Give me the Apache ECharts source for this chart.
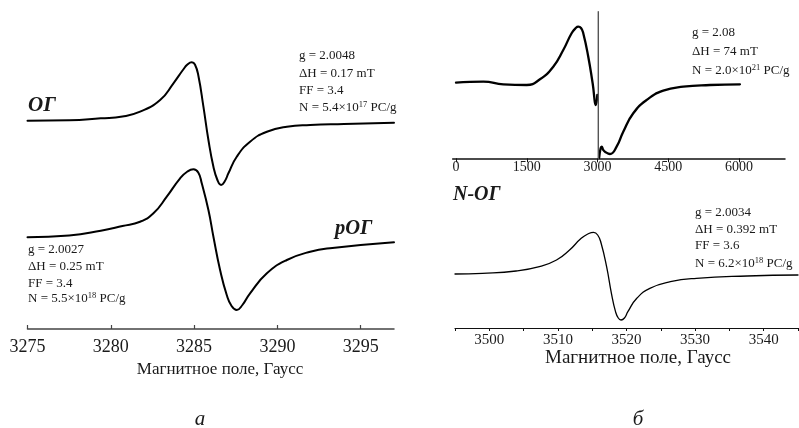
<!DOCTYPE html>
<html>
<head>
<meta charset="utf-8">
<script src="https://cdn.jsdelivr.net/npm/echarts@6/dist/echarts.min.js"></script>
<style>
  html, body { margin: 0; padding: 0; background: #fff; }
  #chart { width: 799px; height: 428px; }
</style>
</head>
<body>
<div id="chart"></div>
<script>
// EPR spectra: ОГ / рОГ (panel а), N-ОГ wide scan and narrow scan (panel б).
// Intensities are in arbitrary units with a vertical offset per trace.

// Panel а — ОГ
const ogField  = [3275, 3277.5, 3279.4, 3280.7, 3281.76, 3282.96, 3283.76, 3284.35, 3284.6, 3284.86, 3285.05, 3285.26, 3285.56, 3285.86, 3286.16, 3286.4, 3286.62, 3286.85, 3287.06, 3287.56, 3288.36, 3289.37, 3290.57, 3291.97, 3294, 3297];
const ogSignal = [208.3, 208.7, 210.7, 212.5, 217.3, 229, 245.7, 259.5, 264.5, 266.7, 264.5, 253, 222.3, 189, 162.3, 149, 144, 148, 155.7, 172.3, 187.3, 197.3, 202.3, 204, 205, 206.3];

// Panel а — рОГ
const rogField  = [3275, 3277.5, 3279.4, 3280.7, 3281.76, 3282.56, 3283.36, 3284.16, 3284.6, 3284.96, 3285.25, 3285.46, 3285.86, 3286.16, 3286.56, 3286.96, 3287.25, 3287.56, 3287.9, 3288.36, 3289.37, 3290.57, 3291.97, 3293.3, 3297];
const rogSignal = [91.7, 93.5, 98.3, 103, 107.3, 115.7, 132.3, 150.7, 157.5, 159.7, 156.5, 145.7, 119, 92.3, 59, 34, 23, 19, 24, 35.7, 55.7, 69, 77.3, 81, 86.7];

// Panel б — N-ОГ wide scan, below and above the narrow line
const wideLowField   = [0, 300, 580, 1003, 1498, 1780, 2062, 2274, 2451, 2540, 2592, 2650, 2698, 2804, 2897, 2967, 2995];
const wideLowSignal  = [75.6, 76.4, 76.6, 74, 73.3, 79, 91.6, 108.3, 125, 130.3, 131.6, 130.3, 125, 101.6, 75, 53.3, 63.3];
const wideHighField  = [3035, 3066, 3088, 3120, 3158, 3264, 3405, 3546, 3758, 4041, 4394, 4818, 5384, 6020];
const wideHighSignal = [0.5, 10, 11.6, 8.5, 6.6, 4.3, 11.6, 26.6, 45, 58.3, 67.6, 71.6, 73.3, 74];
// narrow g ≈ 2 line that runs off the scale
const spikeField  = [3017, 3017];
const spikeSignal = [146.6, 0];

// Panel б — N-ОГ narrow scan
const narrowField  = [3495, 3499, 3503.9, 3507.3, 3509.8, 3511.7, 3513.4, 3514.5, 3515.2, 3515.8, 3516.3, 3517.1, 3517.8, 3518.4, 3518.8, 3519.2, 3519.7, 3520.2, 3521.5, 3523.4, 3526.4, 3530.2, 3537.6, 3545];
const narrowSignal = [54, 54.7, 57, 61.3, 68, 78, 89.7, 94.5, 95.7, 93, 84.7, 61.3, 34.7, 16.3, 10, 8, 10, 16.3, 29.7, 39.7, 46.3, 49.7, 52, 53];

// Tick values
const ticksA          = [3275, 3280, 3285, 3290, 3295];
const ticksWide       = [0, 1500, 3000, 4500, 6000];
const ticksNarrow     = [3500, 3510, 3520, 3530, 3540];
const ticksNarrowAll  = [3495, 3500, 3505, 3510, 3515, 3520, 3525, 3530, 3535, 3540, 3545];

const zip = (xs, ys) => xs.map((x, i) => [x, ys[i]]);

const SERIF = '"Liberation Serif", "DejaVu Serif", serif';
const INK = '#1a1a1a';
const plainNumber = v => String(v);

function line(xi, data, width, color, smooth) {
  return {
    type: 'line', xAxisIndex: xi, yAxisIndex: xi, data: data,
    showSymbol: false, smooth: smooth,
    lineStyle: { color: color, width: width, join: 'round', cap: 'round' },
    clip: false, silent: true
  };
}

function paramBlock(x, ys, lines) {
  return lines.map((t, i) => ({
    type: 'text', x: x, y: ys[i], silent: true,
    style: {
      text: t, fill: INK, font: '13px ' + SERIF,
      textAlign: 'left', textVerticalAlign: 'middle',
      rich: {
        n: { fontSize: 13, fontFamily: SERIF, fill: INK, lineHeight: 15 },
        s: { fontSize: 8.5, fontFamily: SERIF, fill: INK, verticalAlign: 'top', lineHeight: 15 }
      }
    }
  }));
}

function plainText(x, y, t, font, align) {
  return {
    type: 'text', x: x, y: y, silent: true,
    style: { text: t, fill: INK, font: font, textAlign: align || 'left', textVerticalAlign: 'middle' }
  };
}

const option = {
  animation: false,
  backgroundColor: '#fff',
  grid: [
    { left: 27.5, top: 40, width: 366.5, height: 289 },
    { left: 452.7, top: 11.7, width: 332.3, height: 146.6 },
    { left: 455, top: 200, width: 343, height: 128 }
  ],
  xAxis: [
    {
      gridIndex: 0, type: 'value', min: 3275, max: 3297,
      axisLine: { lineStyle: { color: '#444', width: 1.5 } },
      axisTick: { inside: true, length: 4, customValues: ticksA, lineStyle: { color: '#444', width: 1.2 } },
      axisLabel: { customValues: ticksA, formatter: plainNumber, fontFamily: SERIF, fontSize: 18, color: INK, margin: 9 },
      splitLine: { show: false }
    },
    {
      gridIndex: 1, type: 'value', min: -70, max: 6975,
      axisLine: { lineStyle: { color: '#111', width: 1.5 } },
      axisTick: { inside: false, length: 4, customValues: ticksWide, lineStyle: { color: '#111', width: 1 } },
      axisLabel: { customValues: ticksWide, formatter: plainNumber, fontFamily: SERIF, fontSize: 14, color: INK, margin: 2 },
      splitLine: { show: false }
    },
    {
      gridIndex: 2, type: 'value', min: 3495, max: 3545,
      axisLine: { lineStyle: { color: '#111', width: 1.2 } },
      axisTick: { inside: false, length: 3, customValues: ticksNarrowAll, lineStyle: { color: '#111', width: 1 } },
      axisLabel: { customValues: ticksNarrow, formatter: plainNumber, fontFamily: SERIF, fontSize: 15, color: INK, margin: 5 },
      splitLine: { show: false }
    }
  ],
  yAxis: [
    { gridIndex: 0, type: 'value', min: 0, max: 289, show: false },
    { gridIndex: 1, type: 'value', min: 0, max: 146.6, show: false },
    { gridIndex: 2, type: 'value', min: 0, max: 128, show: false }
  ],
  series: [
    line(0, zip(ogField, ogSignal), 2, '#000', 0.5),
    line(0, zip(rogField, rogSignal), 2, '#000', 0.5),
    line(1, zip(wideLowField, wideLowSignal), 2.3, '#000', 0.5),
    line(1, zip(wideHighField, wideHighSignal), 2.3, '#000', 0.5),
    line(1, zip(spikeField, spikeSignal), 1.4, '#555', false),
    line(2, zip(narrowField, narrowSignal), 1.3, '#000', 0.5)
  ],
  graphic: [
    plainText(28, 106, 'ОГ', 'italic bold 21px ' + SERIF),
    plainText(335, 229, 'рОГ', 'italic bold 20.5px ' + SERIF),
    plainText(453, 195, 'N-ОГ', 'italic bold 20px ' + SERIF),
    ...paramBlock(299, [56, 73.5, 90.5, 108], [
      '{n|g = 2.0048}', '{n|ΔH = 0.17 mT}', '{n|FF = 3.4}', '{n|N = 5.4×10}{s|17}{n| PC/g}'
    ]),
    ...paramBlock(28, [250, 267, 284, 299], [
      '{n|g = 2.0027}', '{n|ΔH = 0.25 mT}', '{n|FF = 3.4}', '{n|N = 5.5×10}{s|18}{n| PC/g}'
    ]),
    ...paramBlock(692, [33, 51.5, 70.5], [
      '{n|g = 2.08}', '{n|ΔH = 74 mT}', '{n|N = 2.0×10}{s|21}{n| PC/g}'
    ]),
    ...paramBlock(695, [213, 230, 246, 264], [
      '{n|g = 2.0034}', '{n|ΔH = 0.392 mT}', '{n|FF = 3.6}', '{n|N = 6.2×10}{s|18}{n| PC/g}'
    ]),
    plainText(220, 370, 'Магнитное поле, Гаусс', '17px ' + SERIF, 'center'),
    plainText(638, 358, 'Магнитное поле, Гаусс', '19px ' + SERIF, 'center'),
    plainText(200, 419, 'а', 'italic 21px ' + SERIF, 'center'),
    plainText(638, 419, 'б', 'italic 21px ' + SERIF, 'center')
  ]
};

const chart = echarts.init(document.getElementById('chart'), null, { renderer: 'canvas' });
chart.setOption(option);
</script>
</body>
</html>
